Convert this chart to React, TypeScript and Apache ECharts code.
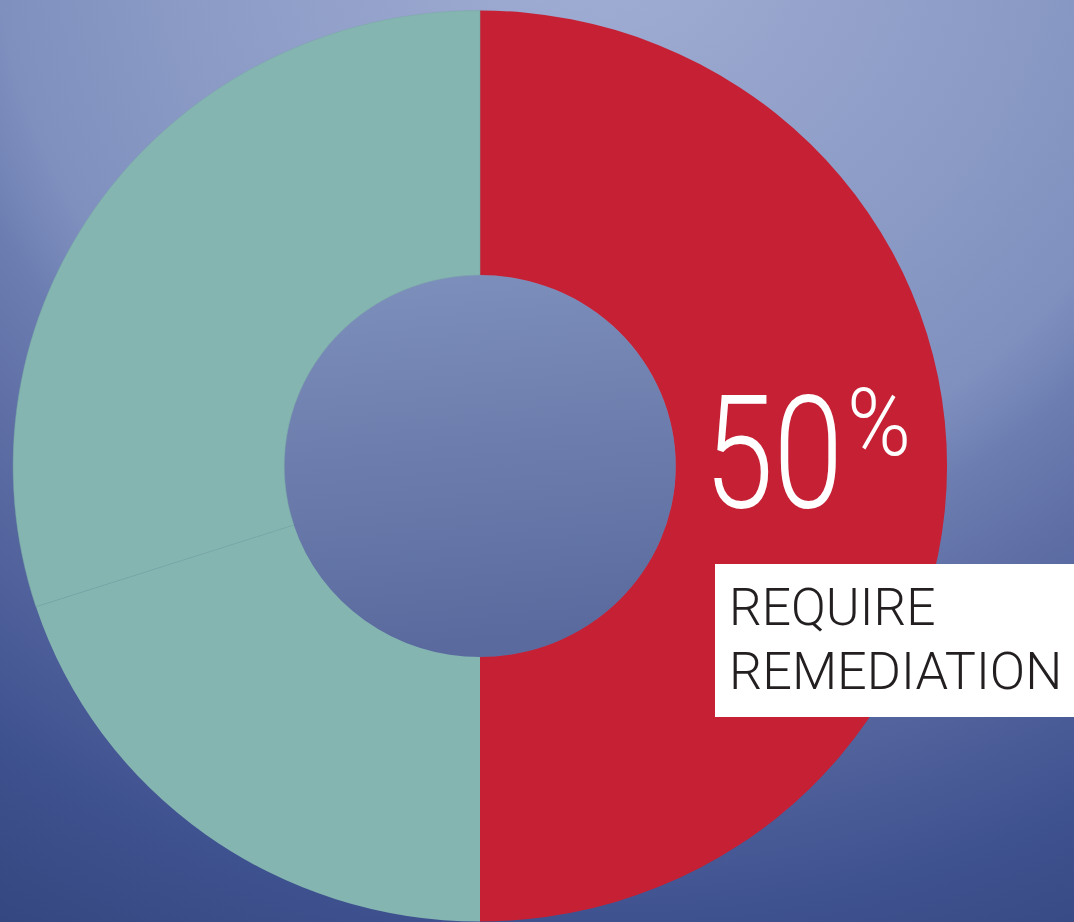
import React, { useEffect, useRef } from "react";
import * as echarts from "echarts";

const categories = ["Require remediation", "Other A", "Other B"];
const values = [50, 20, 30];
const sliceColors = ["#c52034", "#84b5b0", "#84b5b0"];
const bigValue = "50";
const bigUnit = "%";
const labelLines = ["REQUIRE", "REMEDIATION"];

// The reference ring is slightly wider than tall; the chart is stretched horizontally.
const STRETCH = 1.025;
const W = 1074 / STRETCH;
const sx = (x: number) => x / STRETCH;

export default function App() {
  const ref = useRef<HTMLDivElement>(null);
  useEffect(() => {
    if (!ref.current) return;
    const chart = echarts.init(ref.current, undefined, { renderer: "svg" });
    const font = 'Roboto, "Liberation Sans", sans-serif';
    chart.setOption({
      animation: false,
      backgroundColor: "transparent",
      series: [
        {
          type: "pie",
          center: [sx(480), 466],
          radius: [191, 455.5],
          startAngle: 90,
          clockwise: true,
          silent: true,
          label: { show: false },
          labelLine: { show: false },
          data: categories.map((name, i) => ({
            name,
            value: values[i],
            itemStyle: {
              color: sliceColors[i],
              borderWidth: i === 2 ? 0.5 : 0,
              borderColor: "#79aaa5",
            },
          })),
        },
      ],
      graphic: [
        {
          type: "circle",
          z: 1,
          shape: { cx: sx(480), cy: 466, r: 191 },
          style: {
            fill: new echarts.graphic.LinearGradient(0, 0, 0.1, 1, [
              { offset: 0, color: "#7e90bc" },
              { offset: 1, color: "#5a6a9e" },
            ]),
          },
        },
        {
          type: "text",
          z: 100,
          x: sx(704),
          y: 453,
          scaleX: 0.8 / STRETCH,
          style: {
            text: bigValue,
            fill: "#ffffff",
            font: `300 157px ${font}`,
            verticalAlign: "middle",
            align: "left",
          },
        },
        {
          type: "text",
          z: 100,
          x: sx(847),
          y: 423,
          scaleX: 0.92 / STRETCH,
          style: {
            text: bigUnit,
            fill: "#ffffff",
            font: `300 94px ${font}`,
            verticalAlign: "middle",
            align: "left",
          },
        },
        {
          type: "rect",
          z: 90,
          shape: { x: sx(715), y: 564, width: W - sx(715) + 2, height: 153 },
          style: { fill: "#ffffff" },
        },
        {
          type: "text",
          z: 100,
          x: sx(729),
          y: 607,
          scaleX: 0.99 / STRETCH,
          style: {
            text: labelLines[0],
            fill: "#231f20",
            font: `300 52px ${font}`,
            verticalAlign: "middle",
            align: "left",
          },
        },
        {
          type: "text",
          z: 100,
          x: sx(729),
          y: 672,
          scaleX: 1.005 / STRETCH,
          style: {
            text: labelLines[1],
            fill: "#231f20",
            font: `300 52px ${font}`,
            verticalAlign: "middle",
            align: "left",
          },
        },
      ],
    });
    return () => chart.dispose();
  }, []);
  return (
    <div
      style={{
        position: "fixed",
        left: 0,
        top: 0,
        width: 1074,
        height: 922,
        overflow: "hidden",
        background:
          "radial-gradient(ellipse 1100px 1050px at 600px -80px, #a2aed4 0%, #8a9ac5 40%, #7f90bf 55%, #6c7db1 62%, #5a6aa2 75%, #3f5290 95%, #34477f 110%)",
      }}
    >
      <div
        ref={ref}
        style={{
          width: W,
          height: 922,
          transform: `scaleX(${STRETCH})`,
          transformOrigin: "0 0",
        }}
      />
    </div>
  );
}
